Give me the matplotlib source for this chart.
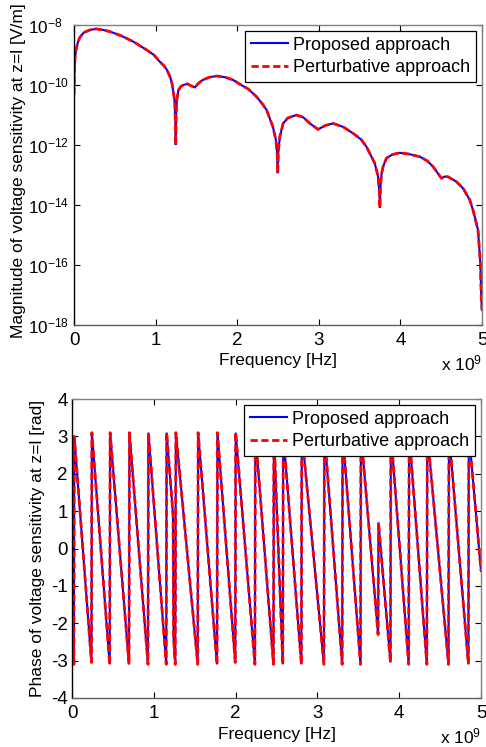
import numpy as np
import matplotlib
matplotlib.use("Agg")
import matplotlib.pyplot as plt
from matplotlib.ticker import FixedLocator, NullLocator

plt.rcParams['font.family'] = ['Liberation Sans', 'DejaVu Sans']
plt.rcParams['mathtext.fontset'] = 'custom'
plt.rcParams['mathtext.rm'] = 'Liberation Sans'
plt.rcParams['mathtext.it'] = 'Liberation Sans'
plt.rcParams['mathtext.bf'] = 'Liberation Sans'
plt.rcParams['axes.unicode_minus'] = False

# ---------------- data (frequency in units of 1e9 Hz) ----------------
mag_freq = [0.000, 0.005, 0.012, 0.025, 0.045, 0.07, 0.12, 0.2, 0.27, 0.35, 0.44, 0.58,
            0.73, 0.89, 0.98, 1.05, 1.1, 1.14, 1.18, 1.2, 1.22, 1.235, 1.243, 1.247,
            1.252, 1.26, 1.28, 1.31, 1.34, 1.39, 1.43, 1.48, 1.53, 1.58, 1.66, 1.75,
            1.85, 1.95, 2.03, 2.134, 2.237, 2.30, 2.36, 2.437, 2.474, 2.49, 2.497,
            2.505, 2.523, 2.563, 2.62, 2.727, 2.81, 2.89, 2.99, 3.08, 3.175, 3.3,
            3.42, 3.52, 3.584, 3.686, 3.727, 3.743, 3.749, 3.755, 3.77, 3.788, 3.829,
            3.9, 3.99, 4.1, 4.237, 4.33, 4.4, 4.503, 4.545, 4.584, 4.686, 4.77, 4.85,
            4.89, 4.951, 4.98, 4.992, 5.0]
mag_log10 = [-10.33, -9.6, -9.1, -8.83, -8.6, -8.42, -8.25, -8.16, -8.13, -8.16, -8.22, -8.36,
             -8.56, -8.83, -9.0, -9.22, -9.35, -9.5, -9.75, -9.94, -10.27, -10.6, -11.3, -12.0,
             -11.0, -10.5, -10.17, -10.05, -10.0, -9.96, -10.02, -10.08, -9.93, -9.83, -9.74, -9.7,
             -9.74, -9.83, -9.97, -10.13, -10.39, -10.6, -10.83, -11.39, -11.83, -12.3, -12.94,
             -12.2, -11.72, -11.28, -11.1, -11.0, -11.08, -11.28, -11.48, -11.35, -11.28, -11.4,
             -11.61, -11.82, -12.06, -12.61, -13.06, -13.6, -14.1, -13.4, -12.95, -12.72, -12.44,
             -12.32, -12.26, -12.3, -12.39, -12.53, -12.72, -13.11, -13.05, -13.06, -13.22, -13.45, -13.83,
             -14.17, -14.83, -15.94, -17.17, -17.5]

phase_freq = [0.0, 0.023, 0.028,
              0.238, 0.243, 0.461, 0.466, 0.697, 0.702, 0.929, 0.934, 1.152, 1.157,
              1.235, 1.242, 1.262, 1.27,
              1.537, 1.542, 1.773, 1.778, 1.996, 2.001, 2.236, 2.241, 2.463, 2.468,
              2.577, 2.582, 2.804, 2.809, 3.080, 3.085, 3.303, 3.308, 3.527, 3.532,
              3.742, 3.747,
              3.893, 3.898, 4.116, 4.121, 4.338, 4.343, 4.603, 4.608, 4.846, 4.851,
              5.0]
phase_rad = [-1.6, -3.1, 3.0,
             -3.05, 3.1, -3.1, 3.1, -3.1, 3.1, -3.1, 3.1, -3.1, 3.1,
             0.9, -2.4, -3.1, 3.1,
             -3.1, 3.1, -3.1, 3.1, -3.05, 3.1, -3.1, 3.1, -3.1, 3.1,
             -3.1, 3.1, -3.1, 3.1, -3.1, 3.1, -3.1, 3.1, -3.1, 3.1,
             -2.3, 0.7,
             -3.05, 3.1, -3.1, 3.1, -3.1, 3.1, -3.1, 3.1, -3.1, 3.1,
             -0.6]

mag_exponents = [-18, -16, -14, -12, -10, -8]
legend_labels = ['Proposed approach', 'Perturbative approach']
mag_ylabel = 'Magnitude of voltage sensitivity at z=l [V/m]'
phase_ylabel = 'Phase of voltage sensitivity at z=l [rad]'
xlabel = 'Frequency [Hz]'

W, H = 486, 747
fig = plt.figure(figsize=(W / 100, H / 100), dpi=100)

TICK_FS = 13.5
LOG_TICK_FS = 12.3
LABEL_FS = 12.5
LEG_FS = 13

def style_axes(ax):
    ax.tick_params(direction='in', length=4, width=0.8, top=True, right=True,
                   labelsize=TICK_FS, colors='black')
    ax.tick_params(axis='x', pad=5)
    for side in ['top', 'right']:
        ax.spines[side].set_color('#808080')
    ax.spines['bottom'].set_color('#606060')
    ax.spines['left'].set_color('black')
    for sp in ax.spines.values():
        sp.set_linewidth(1.0)

def px_axes(l, t, r, b):
    return fig.add_axes([l / W, 1 - b / H, (r - l) / W, (b - t) / H])

blue_kw = dict(color='#0000FF', lw=1.5, solid_joinstyle='miter')
red_kw = dict(color='#FF0000', lw=2.0, linestyle=(0, (2.6, 1.3)))

# ---------------- top: magnitude ----------------
ax1 = px_axes(74, 25, 482, 325)
mag = 10.0 ** np.array(mag_log10)
ax1.semilogy(mag_freq, mag, label=legend_labels[0], **blue_kw)
ax1.semilogy(mag_freq, mag, label=legend_labels[1], **red_kw)
ax1.set_xlim(0, 5)
ax1.set_ylim(1e-18, 1e-8)
ax1.yaxis.set_major_locator(FixedLocator([10.0 ** e for e in mag_exponents]))
ax1.set_yticklabels([r'$10^{%d}$' % e for e in mag_exponents])
ax1.yaxis.set_minor_locator(NullLocator())
ax1.set_xticks([0, 1, 2, 3, 4, 5])
ax1.set_xticklabels(['0', '1', '2', '3', '4', '5'])
style_axes(ax1)
ax1.tick_params(axis='y', pad=33, labelsize=LOG_TICK_FS)
for lbl in ax1.get_yticklabels():
    lbl.set_horizontalalignment('left')
ax1.set_xlabel(xlabel, fontsize=LABEL_FS, labelpad=3)
ax1.set_ylabel(mag_ylabel, fontsize=LABEL_FS)
ax1.yaxis.set_label_coords(-0.118, 0.515)
ax1.text(1.0, -0.128, r'x $10^{9}$', transform=ax1.transAxes, ha='right', va='center',
         fontsize=LABEL_FS)

# ---------------- bottom: phase ----------------
ax2 = px_axes(72, 399, 481, 698)
ax2.plot(phase_freq, phase_rad, label=legend_labels[0], **blue_kw)
ax2.plot(phase_freq, phase_rad, label=legend_labels[1], **red_kw)
ax2.set_xlim(0, 5)
ax2.set_ylim(-4, 4)
ax2.set_yticks(range(-4, 5))
ax2.set_yticklabels([str(v) for v in range(-4, 5)])
ax2.set_xticks([0, 1, 2, 3, 4, 5])
ax2.set_xticklabels(['0', '1', '2', '3', '4', '5'])
style_axes(ax2)
ax2.tick_params(axis='y', pad=3)
ax2.set_xlabel(xlabel, fontsize=LABEL_FS, labelpad=4)
ax2.set_ylabel(phase_ylabel, fontsize=LABEL_FS)
ax2.yaxis.set_label_coords(-0.066, 0.5)
ax2.text(1.0, -0.127, r'x $10^{9}$', transform=ax2.transAxes, ha='right', va='center',
         fontsize=LABEL_FS)

for ax in (ax1, ax2):
    leg = ax.legend(loc='upper right', fontsize=LEG_FS, frameon=True, fancybox=False,
                    framealpha=1.0, edgecolor='black', borderpad=0.3,
                    handlelength=2.1, handletextpad=0.26, labelspacing=0.3,
                    borderaxespad=0.35)
    leg.get_frame().set_linewidth(0.9)

fig.savefig('out.png', dpi=100)
